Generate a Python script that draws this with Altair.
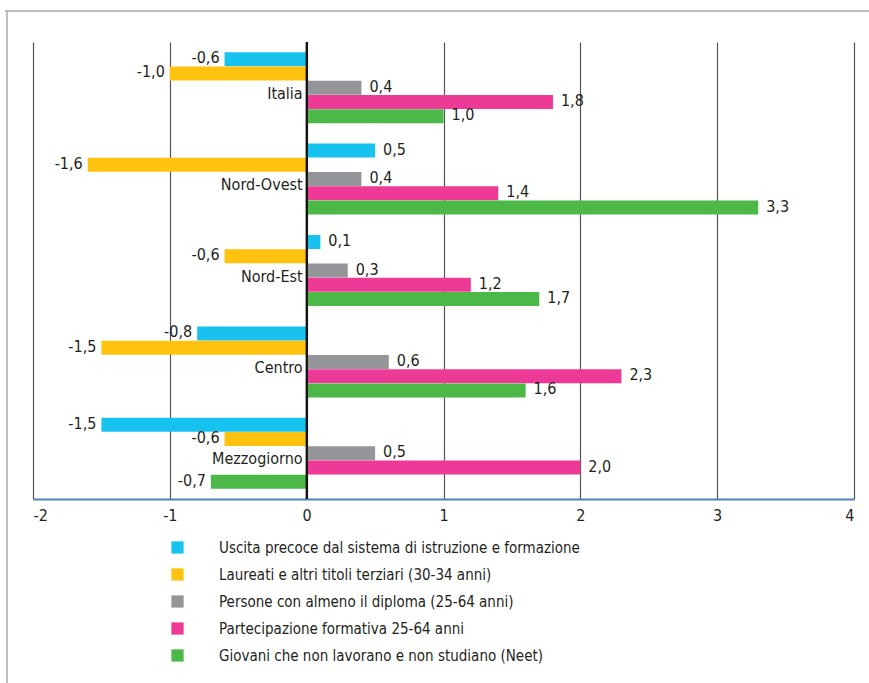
import altair as alt
import pandas as pd

regions = ["Italia", "Nord-Ovest", "Nord-Est", "Centro", "Mezzogiorno"]
series = [
    "Uscita precoce dal sistema di istruzione e formazione",
    "Laureati e altri titoli terziari (30-34 anni)",
    "Persone con almeno il diploma (25-64 anni)",
    "Partecipazione formativa 25-64 anni",
    "Giovani che non lavorano e non studiano (Neet)",
]
colors = ["#17C2EF", "#FFC20E", "#939598", "#EC3A96", "#4BB848"]

uscita = [-0.6, 0.5, 0.1, -0.8, -1.5]
laureati = [-1.0, -1.6, -0.6, -1.5, -0.6]
diploma = [0.4, 0.4, 0.3, 0.6, 0.5]
partecipazione = [1.8, 1.4, 1.2, 2.3, 2.0]
neet = [1.0, 3.3, 1.7, 1.6, -0.7]
ticks = [-2, -1, 0, 1, 2, 3, 4]

all_vals = [uscita, laureati, diploma, partecipazione, neet]
rows = []
for s, vals in zip(series, all_vals):
    for r, v in zip(regions, vals):
        rows.append({"region": r, "series": s, "value": v,
                     "label": f"{v:.1f}".replace(".", ",")})
df = pd.DataFrame(rows)
cats = pd.DataFrame({"region": regions})

FONT = "DejaVu Sans Condensed, Liberation Sans Narrow, sans-serif"
W, H = 821, 457

yenc = alt.Y("region:N", sort=regions,
             scale=alt.Scale(paddingInner=0.22, paddingOuter=0.11), axis=None)
yoff = alt.YOffset("series:N", sort=series, scale=alt.Scale(paddingInner=0, paddingOuter=0))
xscale = alt.Scale(domain=[-2, 4], nice=False, zero=False)

base = alt.Chart(df)

bars = base.mark_bar(size=14).encode(
    x=alt.X("value:Q", scale=xscale,
            axis=alt.Axis(values=ticks, title=None, grid=True,
                          gridColor="#555555", gridWidth=1.2, domainColor="#4F81BD",
                          domainWidth=2, ticks=False, labelFontSize=16, labelFont=FONT,
                          labelColor="#231F20", labelPadding=8,
                          labelExpr="toString(datum.value)")),
    y=yenc,
    yOffset=yoff,
    color=alt.Color("series:N", sort=series,
                    scale=alt.Scale(domain=series, range=colors),
                    legend=alt.Legend(title=None, orient="none", legendX=137, legendY=498,
                                      symbolType="square", symbolSize=150,
                                      symbolStrokeWidth=0, labelFont=FONT,
                                      labelFontSize=15, labelColor="#231F20",
                                      labelOffset=34, rowPadding=11, labelLimit=600,
                                      direction="vertical")),
)

zero = alt.Chart(cats).mark_rule(color="#111111", strokeWidth=1.5).encode(
    x=alt.datum(0, scale=xscale), y=alt.value(0), y2=alt.value(H))

pos = base.transform_filter("datum.value >= 0").mark_text(
    align="left", dx=8, dy=-1, fontSize=16, font=FONT, color="#231F20").encode(
    x=alt.X("value:Q", scale=xscale), y=yenc, yOffset=yoff, text="label:N")
neg = base.transform_filter("datum.value < 0").mark_text(
    align="right", dx=-5, dy=-1, fontSize=16, font=FONT, color="#231F20").encode(
    x=alt.X("value:Q", scale=xscale), y=yenc, yOffset=yoff, text="label:N")

catlab = alt.Chart(cats).mark_text(
    align="right", dx=-4, dy=6, fontSize=16, font=FONT, color="#231F20").encode(
    x=alt.datum(0, scale=xscale), y=yenc, text="region:N")

frame_top = alt.Chart(cats).mark_rule(color="#BDBDBD", strokeWidth=2).encode(
    x=alt.value(-28), x2=alt.value(840), y=alt.value(-31))
frame_left = alt.Chart(cats).mark_rule(color="#BDBDBD", strokeWidth=2).encode(
    x=alt.value(-26), y=alt.value(-31), y2=alt.value(645))

chart = alt.layer(bars, zero, pos, neg, catlab, frame_top, frame_left).properties(
    width=W, height=H,
    background="white",
    autosize=alt.AutoSizeParams(type="none"),
    padding={"left": 33, "top": 42, "right": 15, "bottom": 184},
).configure_view(stroke="transparent", strokeWidth=0)

chart.save("out.html", embed_options={"renderer": "svg", "actions": False})
